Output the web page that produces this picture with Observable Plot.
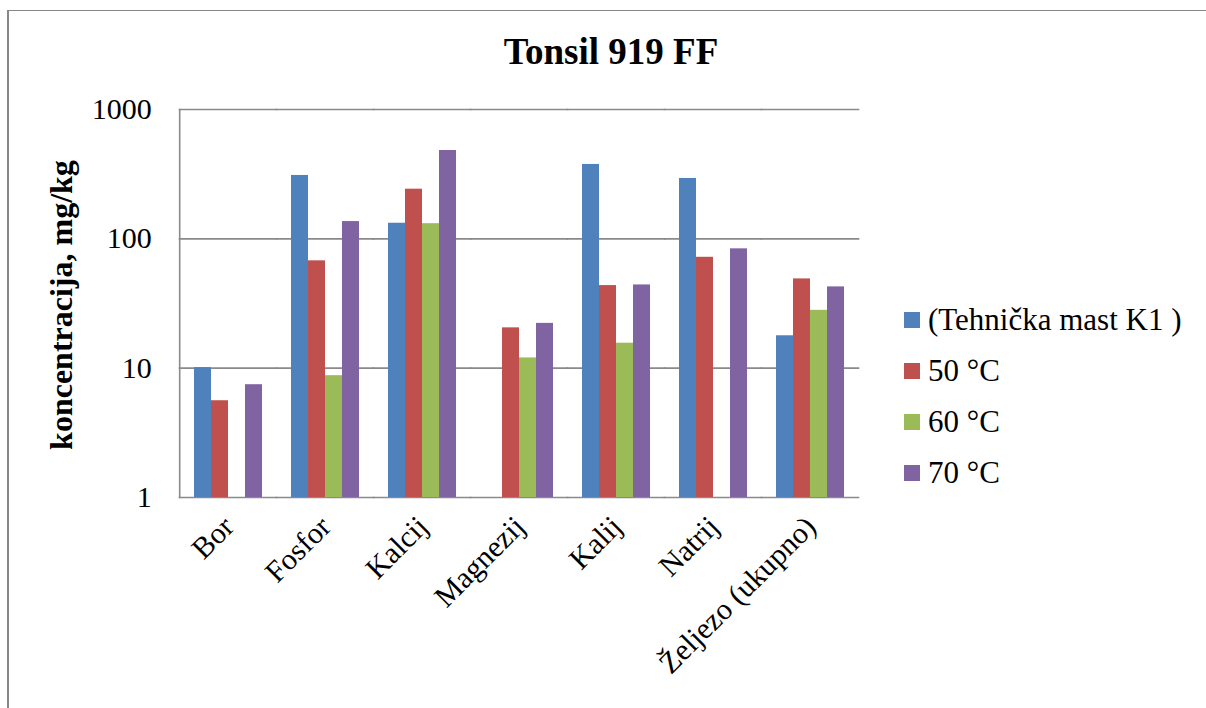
<!DOCTYPE html>
<html>
<head>
<meta charset="utf-8">
<script src="https://cdn.jsdelivr.net/npm/d3@7"></script>
<script src="https://cdn.jsdelivr.net/npm/@observablehq/plot@0.6"></script>
<style>
  html, body { margin: 0; padding: 0; background: #fff; }
  #wrap { position: relative; width: 1206px; height: 708px; overflow: hidden; font-family: "Liberation Serif", Tinos, "Times New Roman", Times, "DejaVu Serif", "Noto Serif", serif; color: #000; }
  #border { position: absolute; left: 7px; top: 10px; width: 1220px; height: 720px; border-top: 1px solid #878787; border-left: 2px solid #878787; }
  #chart { position: absolute; left: 0; top: 0; }
  #title { position: absolute; left: 0; width: 1222px; top: 33px; text-align: center; font-size: 37px; font-weight: bold; line-height: 37px; white-space: nowrap; }
  #ylabel { position: absolute; left: 61px; top: 305px; transform: translate(-50%, -50%) rotate(-90deg); font-size: 32px; font-weight: bold; line-height: 32px; white-space: nowrap; }
  #legend { position: absolute; left: 904px; top: 294px; }
  .item { display: flex; align-items: center; height: 51px; font-size: 31px; line-height: 31px; white-space: nowrap; }
  .sw { width: 16px; height: 16px; margin-right: 8px; flex: none; }
  #chart svg text { font-family: "Liberation Serif", Tinos, "Times New Roman", Times, "DejaVu Serif", "Noto Serif", serif; }
</style>
</head>
<body>
<div id="wrap">
  <div id="border"></div>
  <div id="chart"></div>
  <div id="title"></div>
  <div id="ylabel"></div>
  <div id="legend"></div>
</div>
<script>
const titleText = "Tonsil 919 FF";
const yLabelText = "koncentracija, mg/kg";
const categories = ["Bor", "Fosfor", "Kalcij", "Magnezij", "Kalij", "Natrij", "Željezo (ukupno)"];
const seriesNames = ["(Tehnička mast K1 )", "50 °C", "60 °C", "70 °C"];
const seriesColors = ["#4F81BD", "#C0504D", "#9BBB59", "#8064A2"];
const k1Values  = [10.1, 309, 132, null, 376, 293, 17.8];
const c50Values = [5.6, 67.6, 242, 20.5, 43.5, 72, 49];
const c60Values = [null, 8.75, 131, 12.0, 15.6, null, 28];
const c70Values = [7.45, 136, 482, 22.2, 44, 83.7, 42.5];
const yTicks = [1, 10, 100, 1000];

const seriesValues = [k1Values, c50Values, c60Values, c70Values];
const rows = categories.flatMap((c, i) =>
  seriesValues.map((arr, j) => ({category: c, series: seriesNames[j], value: arr[i]}))
).filter(d => d.value != null);

const serifFont = "'Liberation Serif', Tinos, 'Times New Roman', Times, 'DejaVu Serif', 'Noto Serif', serif";
const gridColor = "#8a8a8a";
const fxPaddingInner = 0.283;
const plotLeft = 177, plotRight = 860;
const step = (plotRight - plotLeft) / categories.length;
const outerGap = step * fxPaddingInner / 2;

const chart = Plot.plot({
  width: 1206,
  height: 708,
  marginLeft: plotLeft,
  marginRight: 1206 - plotRight,
  marginTop: 109,
  marginBottom: 211,
  style: {fontFamily: serifFont, color: "#000", background: "transparent", overflow: "visible"},
  fx: {domain: categories, paddingInner: fxPaddingInner, paddingOuter: fxPaddingInner / 2, axis: null, label: null},
  x: {domain: seriesNames, padding: 0, axis: null},
  y: {type: "log", domain: [1, 1000], axis: null},
  color: {domain: seriesNames, range: seriesColors},
  marks: [
    Plot.ruleY(yTicks, {stroke: gridColor, strokeWidth: 1.6, insetLeft: -(outerGap + 0.5), insetRight: -(outerGap + 0.5)}),
    Plot.frame({anchor: "left", facetAnchor: "left", insetLeft: -outerGap, stroke: gridColor, strokeWidth: 1.6}),
    Plot.barY(rows, {fx: "category", x: "series", y1: 1, y2: "value", fill: "series"}),
    Plot.axisY(yTicks, {tickFormat: d => String(d), tickSize: 0, tickPadding: 28 + outerGap, fontSize: 30, label: null}),
    Plot.text(categories, {fx: d => d, text: d => d, frameAnchor: "bottom", rotate: -45, textAnchor: "end", lineAnchor: "top", dx: -8, dy: 16, fontSize: 30, fill: "#000"})
  ]
});
document.getElementById("chart").appendChild(chart);

document.getElementById("title").textContent = titleText;
document.getElementById("ylabel").textContent = yLabelText;
const legend = document.getElementById("legend");
seriesNames.forEach((name, i) => {
  const item = document.createElement("div");
  item.className = "item";
  const sw = document.createElement("span");
  sw.className = "sw";
  sw.style.background = seriesColors[i];
  const label = document.createElement("span");
  label.textContent = name;
  item.appendChild(sw);
  item.appendChild(label);
  legend.appendChild(item);
});
</script>
</body>
</html>
